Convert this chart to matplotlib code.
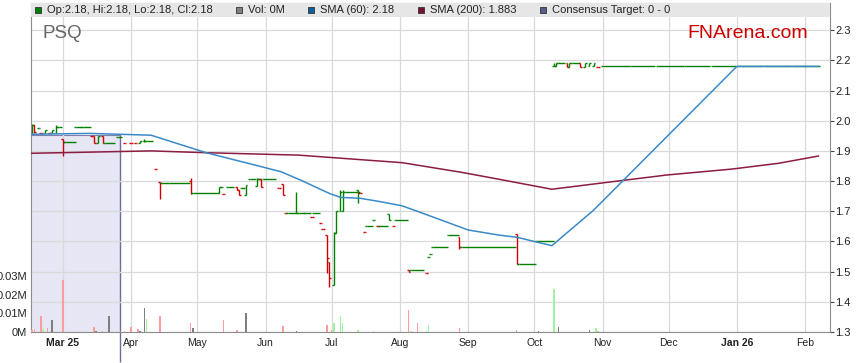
import pandas as pd
import matplotlib
matplotlib.use("Agg")
from matplotlib import pyplot as plt
import matplotlib.dates as mdates
from matplotlib.patches import Rectangle

plt.rcParams['font.family'] = ['Liberation Sans', 'DejaVu Sans']

# price bars: first date, last date at that price, open, high, low, close
bar_start = ["2025-02-15", "2025-02-16", "2025-02-18", "2025-02-19", "2025-02-21", "2025-02-23", "2025-02-24", "2025-02-26", "2025-02-27",
             "2025-03-01", "2025-03-02", "2025-03-07", "2025-03-10", "2025-03-14", "2025-03-15", "2025-03-17", "2025-03-19", "2025-03-20",
             "2025-03-26", "2025-03-29", "2025-04-01", "2025-04-03", "2025-04-05", "2025-04-07", "2025-04-08",
             "2025-04-12", "2025-04-14", "2025-04-15", "2025-04-18", "2025-04-28", "2025-04-29",
             "2025-05-11", "2025-05-12", "2025-05-13", "2025-05-15", "2025-05-19", "2025-05-20", "2025-05-21", "2025-05-23",
             "2025-05-25", "2025-05-28", "2025-05-29", "2025-05-30", "2025-05-31",
             "2025-06-07", "2025-06-09", "2025-06-10", "2025-06-11", "2025-06-15", "2025-06-16", "2025-06-19", "2025-06-22", "2025-06-23",
             "2025-06-26", "2025-06-27", "2025-06-29", "2025-06-30",
             "2025-07-02", "2025-07-03", "2025-07-05", "2025-07-06", "2025-07-07", "2025-07-13", "2025-07-14", "2025-07-16", "2025-07-17",
             "2025-07-20", "2025-07-22", "2025-07-23", "2025-07-27", "2025-07-29", "2025-07-30",
             "2025-08-05", "2025-08-06", "2025-08-13", "2025-08-14", "2025-08-15", "2025-08-16", "2025-08-23", "2025-08-28", "2025-08-29",
             "2025-09-23", "2025-09-24", "2025-10-02",
             "2025-10-10", "2025-10-11", "2025-10-12", "2025-10-16", "2025-10-17", "2025-10-18", "2025-10-22", "2025-10-24", "2025-10-26", "2025-10-28", "2025-10-30",
             "2025-11-01", "2025-11-14", "2025-11-26", "2025-12-09", "2025-12-21", "2026-01-02", "2026-01-14", "2026-01-27"]
bar_end = ["2025-02-15", "2025-02-16", "2025-02-18", "2025-02-19", "2025-02-21", "2025-02-23", "2025-02-24", "2025-02-26", "2025-02-28",
           "2025-03-01", "2025-03-06", "2025-03-09", "2025-03-13", "2025-03-14", "2025-03-15", "2025-03-17", "2025-03-19", "2025-03-24",
           "2025-03-27", "2025-03-29", "2025-04-01", "2025-04-03", "2025-04-05", "2025-04-07", "2025-04-10",
           "2025-04-12", "2025-04-14", "2025-04-17", "2025-04-27", "2025-04-28", "2025-05-10",
           "2025-05-11", "2025-05-12", "2025-05-13", "2025-05-17", "2025-05-19", "2025-05-20", "2025-05-22", "2025-05-23",
           "2025-05-27", "2025-05-28", "2025-05-29", "2025-05-30", "2025-06-05",
           "2025-06-07", "2025-06-09", "2025-06-10", "2025-06-14", "2025-06-15", "2025-06-18", "2025-06-21", "2025-06-22", "2025-06-25",
           "2025-06-26", "2025-06-27", "2025-06-29", "2025-06-30",
           "2025-07-02", "2025-07-03", "2025-07-05", "2025-07-06", "2025-07-12", "2025-07-13", "2025-07-14", "2025-07-16", "2025-07-19",
           "2025-07-20", "2025-07-22", "2025-07-26", "2025-07-27", "2025-07-29", "2025-08-04",
           "2025-08-05", "2025-08-11", "2025-08-13", "2025-08-14", "2025-08-15", "2025-08-22", "2025-08-27", "2025-08-28", "2025-09-22",
           "2025-09-23", "2025-10-01", "2025-10-09",
           "2025-10-10", "2025-10-11", "2025-10-14", "2025-10-16", "2025-10-17", "2025-10-21", "2025-10-22", "2025-10-24", "2025-10-26", "2025-10-28", "2025-10-30",
           "2025-11-12", "2025-11-24", "2025-12-07", "2025-12-19", "2025-12-31", "2026-01-12", "2026-01-25", "2026-02-07"]
bar_open = [1.960, 1.985, 1.975, 1.958, 1.958, 1.958, 1.958, 1.960, 1.978,
            1.938, 1.928, 1.978, 1.978, 1.950, 1.950, 1.926, 1.950, 1.925,
            1.947, 1.927, 1.926, 1.925, 1.925, 1.933, 1.933,
            1.839, 1.798, 1.793, 1.793, 1.800, 1.759,
            1.759, 1.780, 1.757, 1.780, 1.780, 1.770, 1.778, 1.755,
            1.807, 1.784, 1.807, 1.807, 1.807,
            1.776, 1.789, 1.693, 1.693, 1.693, 1.693, 1.693, 1.680, 1.693,
            1.660, 1.640, 1.621, 1.533,
            1.455, 1.627, 1.700, 1.700, 1.763, 1.770, 1.760, 1.630, 1.651,
            1.671, 1.651, 1.651, 1.690, 1.651, 1.671,
            1.507, 1.507, 1.496, 1.547, 1.560, 1.580, 1.620, 1.616, 1.580,
            1.625, 1.525, 1.600,
            2.180, 2.180, 2.190, 2.190, 2.179, 2.190, 2.190, 2.179, 2.180, 2.180, 2.179,
            2.180, 2.180, 2.180, 2.180, 2.180, 2.180, 2.180, 2.180]
bar_high = [1.990, 1.985, 1.975, 1.958, 1.970, 1.958, 1.970, 1.985, 1.978,
            1.938, 1.928, 1.978, 1.978, 1.950, 1.950, 1.950, 1.950, 1.925,
            1.947, 1.927, 1.926, 1.925, 1.933, 1.940, 1.933,
            1.839, 1.798, 1.793, 1.793, 1.810, 1.759,
            1.779, 1.780, 1.757, 1.780, 1.780, 1.770, 1.778, 1.787,
            1.807, 1.810, 1.807, 1.807, 1.807,
            1.776, 1.789, 1.693, 1.693, 1.763, 1.693, 1.693, 1.680, 1.693,
            1.660, 1.640, 1.621, 1.533,
            1.632, 1.700, 1.770, 1.770, 1.763, 1.770, 1.760, 1.630, 1.651,
            1.671, 1.651, 1.651, 1.690, 1.651, 1.671,
            1.507, 1.507, 1.496, 1.547, 1.560, 1.580, 1.620, 1.616, 1.580,
            1.625, 1.525, 1.600,
            2.190, 2.190, 2.190, 2.190, 2.190, 2.190, 2.190, 2.190, 2.190, 2.190, 2.179,
            2.180, 2.180, 2.180, 2.180, 2.180, 2.180, 2.180, 2.180]
bar_low = [1.960, 1.960, 1.975, 1.958, 1.958, 1.958, 1.958, 1.958, 1.978,
           1.884, 1.928, 1.978, 1.978, 1.950, 1.926, 1.926, 1.925, 1.925,
           1.947, 1.927, 1.926, 1.925, 1.925, 1.928, 1.933,
           1.839, 1.740, 1.793, 1.793, 1.756, 1.759,
           1.759, 1.780, 1.757, 1.780, 1.770, 1.753, 1.778, 1.753,
           1.807, 1.784, 1.807, 1.781, 1.807,
           1.776, 1.754, 1.693, 1.693, 1.693, 1.693, 1.693, 1.680, 1.693,
           1.660, 1.640, 1.496, 1.448,
           1.455, 1.627, 1.700, 1.700, 1.763, 1.728, 1.760, 1.630, 1.651,
           1.671, 1.651, 1.651, 1.671, 1.651, 1.671,
           1.498, 1.507, 1.496, 1.547, 1.560, 1.580, 1.620, 1.574, 1.580,
           1.525, 1.525, 1.600,
           2.180, 2.180, 2.190, 2.179, 2.179, 2.190, 2.179, 2.179, 2.180, 2.180, 2.179,
           2.180, 2.180, 2.180, 2.180, 2.180, 2.180, 2.180, 2.180]
bar_close = [1.985, 1.962, 1.975, 1.958, 1.970, 1.958, 1.968, 1.978, 1.978,
             1.928, 1.928, 1.978, 1.978, 1.950, 1.926, 1.950, 1.925, 1.925,
             1.947, 1.927, 1.926, 1.925, 1.933, 1.933, 1.933,
             1.839, 1.793, 1.793, 1.793, 1.759, 1.759,
             1.779, 1.780, 1.757, 1.780, 1.770, 1.755, 1.778, 1.787,
             1.807, 1.807, 1.807, 1.781, 1.807,
             1.776, 1.754, 1.693, 1.693, 1.693, 1.693, 1.693, 1.680, 1.693,
             1.660, 1.640, 1.544, 1.478,
             1.627, 1.700, 1.763, 1.763, 1.763, 1.763, 1.760, 1.630, 1.651,
             1.671, 1.651, 1.651, 1.671, 1.651, 1.671,
             1.498, 1.507, 1.496, 1.547, 1.560, 1.580, 1.620, 1.580, 1.580,
             1.525, 1.525, 1.600,
             2.180, 2.190, 2.190, 2.179, 2.190, 2.190, 2.179, 2.190, 2.190, 2.190, 2.179,
             2.180, 2.180, 2.180, 2.180, 2.180, 2.180, 2.180, 2.180]

# volume (millions) and direction of the day
vol_dates = ["2025-02-15", "2025-02-16", "2025-02-19", "2025-02-20", "2025-02-22", "2025-02-24", "2025-03-01",
             "2025-03-15", "2025-03-16", "2025-03-19", "2025-03-22", "2025-03-29", "2025-04-01", "2025-04-04",
             "2025-04-05", "2025-04-07", "2025-04-08", "2025-04-14", "2025-04-28", "2025-04-29", "2025-05-13",
             "2025-05-19", "2025-05-23", "2025-06-09", "2025-06-15", "2025-06-29", "2025-07-01", "2025-07-02",
             "2025-07-05", "2025-07-06", "2025-07-13", "2025-07-20", "2025-08-05", "2025-08-06", "2025-08-09",
             "2025-08-13", "2025-08-14", "2025-08-28", "2025-09-23", "2025-10-03", "2025-10-10", "2025-10-12",
             "2025-10-26", "2025-10-29", "2025-10-30"]
vol_values = [0.0009, 0.0015, 0.0088, 0.0016, 0.0022, 0.0065, 0.0280,
              0.0027, 0.0007, 0.0006, 0.0086, 0.0005, 0.0027, 0.0017,
              0.0006, 0.0127, 0.0070, 0.0086, 0.0047, 0.0022, 0.0065,
              0.0011, 0.0102, 0.0032, 0.0007, 0.0038, 0.0009, 0.0047,
              0.0086, 0.0047, 0.0013, 0.0007, 0.0120, 0.0007, 0.0047,
              0.0007, 0.0038, 0.0022, 0.0011, 0.0007, 0.0231, 0.0027,
              0.0011, 0.0022, 0.0007]
vol_dir = ["down", "down", "down", "up", "down", "flat", "down",
           "down", "flat", "down", "flat", "down", "down", "down",
           "flat", "flat", "up", "down", "down", "flat", "down",
           "down", "flat", "down", "flat", "down", "down", "up",
           "up", "up", "up", "up", "down", "up", "down",
           "up", "up", "down", "down", "flat", "up", "flat",
           "flat", "up", "down"]

sma60_dates = ["2025-02-14", "2025-03-13", "2025-04-10", "2025-05-05", "2025-05-24", "2025-06-08", "2025-06-17",
               "2025-06-30", "2025-07-05", "2025-07-14", "2025-07-23", "2025-08-02", "2025-08-10", "2025-09-01",
               "2025-09-15", "2025-09-23", "2025-10-09", "2025-10-28", "2026-01-01", "2026-02-07"]
sma60_values = [1.955, 1.958, 1.952, 1.894, 1.859, 1.831, 1.803,
                1.759, 1.746, 1.743, 1.732, 1.718, 1.697, 1.638,
                1.621, 1.614, 1.586, 1.704, 2.180, 2.180]

sma200_dates = ["2025-02-14", "2025-04-10", "2025-05-05", "2025-06-16", "2025-07-16", "2025-08-02", "2025-08-29",
                "2025-09-15", "2025-10-09", "2025-10-31", "2025-11-30", "2025-12-30", "2026-01-20", "2026-02-07"]
sma200_values = [1.892, 1.900, 1.894, 1.886, 1.870, 1.861, 1.829,
                 1.806, 1.773, 1.793, 1.820, 1.840, 1.859, 1.883]

consensus_end = "2025-03-27"
consensus_level = 1.953

month_ticks = ["2025-03-01", "2025-04-01", "2025-05-01", "2025-06-01", "2025-07-01", "2025-08-01",
               "2025-09-01", "2025-10-01", "2025-11-01", "2025-12-01", "2026-01-01", "2026-02-01"]
month_labels = ["Mar 25", "Apr", "May", "Jun", "Jul", "Aug", "Sep", "Oct", "Nov", "Dec", "Jan 26", "Feb"]
price_ticks = [1.3, 1.4, 1.5, 1.6, 1.7, 1.8, 1.9, 2.0, 2.1, 2.2, 2.3]
vol_ticks = [0, 0.01, 0.02, 0.03]
vol_labels = ["0M", "0.01M", "0.02M", "0.03M"]

GREEN = "#008000"
RED = "#D00000"
VOL_COLORS = {"up": "#9CF59C", "down": "#FF9C9C", "flat": "#7F7F7F"}
TICK_DAYS = 0.8
W, H = 859, 363


def d2n(dates):
    return mdates.date2num(pd.to_datetime(dates))


fig = plt.figure(figsize=(W / 100, H / 100), dpi=100)
ax = fig.add_axes([31 / W, 31 / H, 799 / W, 329 / H])
axv = ax.twinx()   # volume scale, drawn over the price panel
ax.set_xlim(d2n("2025-02-14 12:00"), d2n("2026-02-12 07:00"))
ax.set_ylim(1.3, 2.39)

# consensus target block
xl = ax.get_xlim()[0]
xc = d2n(consensus_end)
ax.fill_between([xl, xc], 1.3, consensus_level, color="#E6E6F5", lw=0, zorder=0.2)
ax.plot([xl, xc], [consensus_level, consensus_level], color="#8080B0", lw=0.8, zorder=0.3)
frac = (consensus_level - 1.3) / (2.39 - 1.3)
ax.vlines(xc, -0.09, frac, transform=ax.get_xaxis_transform(), color="#6E6E9E", lw=1.0,
          clip_on=False, zorder=0.3)

# price bars
s = d2n(bar_start)
e = d2n(bar_end)
prev = bar_open[0]
for i in range(len(s)):
    c = GREEN if bar_close[i] >= prev else RED
    prev = bar_close[i]
    if bar_high[i] > bar_low[i]:
        ax.vlines(s[i], bar_low[i], bar_high[i], color=c, lw=1.0, zorder=2)
    ax.hlines(bar_open[i], s[i] - TICK_DAYS, s[i], color=c, lw=1.0, zorder=2)
    ax.hlines(bar_close[i], s[i], e[i] + TICK_DAYS, color=c, lw=1.0, zorder=2)

ax.plot(d2n(sma200_dates), sma200_values, color="#8C1C40", lw=1.1, zorder=3)
ax.plot(d2n(sma60_dates), sma60_values, color="#3A8AC8", lw=1.1, zorder=3)

ax.set_axisbelow(True)
ax.grid(color="#D9D9D9", lw=0.9)
ax.set_xticks(d2n(month_ticks))
ax.set_xticklabels(month_labels, fontsize=7.5, color="#222222")
for lab in ax.get_xticklabels():
    if " " in lab.get_text():
        lab.set_fontweight("bold")
ax.tick_params(axis="x", length=0, pad=4)
ax.yaxis.tick_right()
ax.set_yticks(price_ticks)
ax.set_yticklabels(["%.1f" % p for p in price_ticks], fontsize=8, color="#222222")
ax.tick_params(axis="y", length=3, width=0.8, pad=1, color="#444444")
for sp in ax.spines.values():
    sp.set_color("#8C8C8C")

# volume bars
axv.set_ylim(0, 0.1769)
axv.bar(d2n(vol_dates), vol_values, width=0.7, color=[VOL_COLORS[d] for d in vol_dir], zorder=2)
axv.yaxis.tick_left()
axv.set_yticks(vol_ticks)
axv.set_yticklabels(vol_labels, fontsize=8, color="#222222")
axv.tick_params(axis="y", length=0, pad=3)
for sp in axv.spines.values():
    sp.set_visible(False)

# header strip with the legend
axv.add_patch(Rectangle((0, 1 - 14 / 329), 1, 14 / 329, transform=axv.transAxes,
                        facecolor="#E6E6E6", edgecolor="none", zorder=5, clip_on=False))
legend = [(35, GREEN, "Op:2.18, Hi:2.18, Lo:2.18, Cl:2.18"),
          (236, "#808080", "Vol: 0M"),
          (308, "#0F5E9E", "SMA (60): 2.18"),
          (418, "#7A1030", "SMA (200): 1.883"),
          (540, "#5A5A8A", "Consensus Target: 0 - 0")]
for x, col, txt in legend:
    fig.patches.append(Rectangle((x / W, 1 - 13 / H), 6 / W, 6 / H, transform=fig.transFigure,
                                 facecolor=col, edgecolor="#333333", lw=0.6, zorder=6))
    fig.text((x + 12) / W, 1 - 10 / H, txt, fontsize=8, color="#222222", va="center", ha="left", zorder=7)

fig.text(42 / W, 1 - 33 / H, "PSQ", fontsize=13.5, color="#666666", va="center", ha="left")
fig.text(808 / W, 1 - 33 / H, "FNArena.com", fontsize=14, color="#CC0000", va="center", ha="right")

fig.savefig("out.png", dpi=100)
